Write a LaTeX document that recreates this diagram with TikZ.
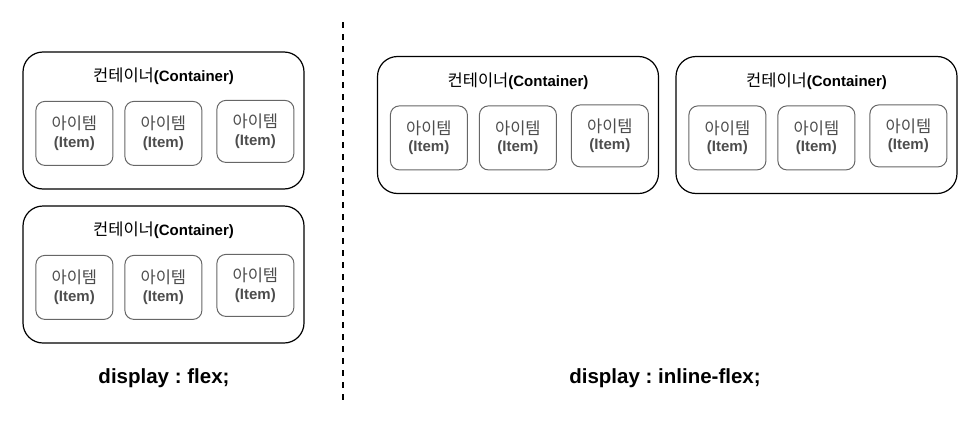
\documentclass[tikz,border=0pt]{standalone}
\usepackage{fontspec}
\setmainfont{Liberation Sans}
\newfontfamily\kr[Scale=1.1]{Noto Sans CJK KR}
\usetikzlibrary{calc}
\definecolor{itemgray}{HTML}{666666}
\definecolor{itemtext}{HTML}{4D4D4D}
\frenchspacing

\begin{document}
\begin{tikzpicture}[x=1pt,y=-1pt,
		box/.style={draw,line width=1.2pt,rounded corners=20pt,minimum width=281pt,minimum height=137pt},
		item/.style={draw=itemgray,line width=1pt,rounded corners=9pt,minimum width=77pt,text=itemtext,align=center,font=\fontsize{15}{17.5}\selectfont},
		title/.style={font=\fontsize{15}{17}\selectfont},
		caption/.style={font=\fontsize{20.5}{24}\selectfont\bfseries}]
	\useasboundingbox (0,0) rectangle (976,423);
	\foreach \c/\x/\y in {L1/163.5/120.5,L2/163.5/274.5,R1/518/125,R2/816.5/125} {
		\node[box] (\c) at (\x,\y) {};
		\node[title] (\c-t) at ($(\c.north)+(0,25)$) {{\kr 컨테이너}\textbf{(Container)}};
		\foreach \i/\dx/\dy/\h in {1/52/82/64,2/141/82/64,3/233/80/62}
			\node[item,minimum height=\h pt] (\c-\i) at ($(\c.north west)+(\dx,\dy)$) {{\kr 아이템}\\\textbf{(Item)}};
	}
	\path (343,22) coordinate (sep-top) (343,403) coordinate (sep-bot);
	\draw[line width=2.2pt,dash pattern=on 6pt off 6pt] (sep-top) -- (sep-bot);
	\node[caption] (flex) at (164,378) {display : flex;};
	\node[caption] (inline) at (665,378) {display : inline-flex;};
\end{tikzpicture}
\end{document}
